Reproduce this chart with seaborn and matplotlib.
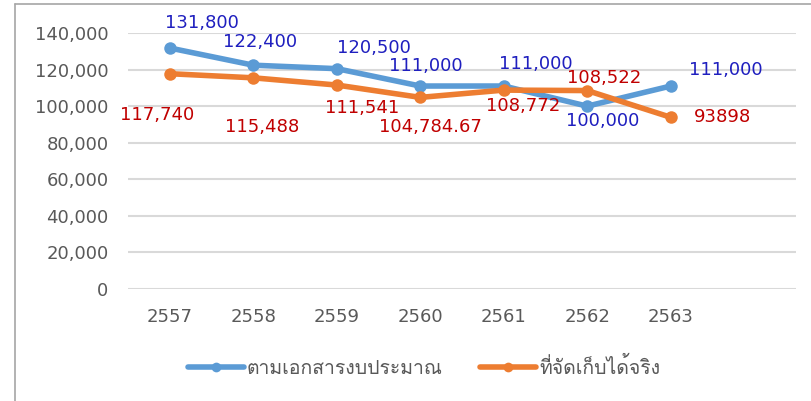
import matplotlib
matplotlib.use("Agg")
import matplotlib.pyplot as plt
from matplotlib import font_manager as fm
from matplotlib.ft2font import FT2Font
from matplotlib.lines import Line2D
import seaborn as sns
import pandas as pd

# ---- data ----
years = ["2557", "2558", "2559", "2560", "2561", "2562", "2563", ""]
budget = [131800, 122400, 120500, 111000, 111000, 100000, 111000]
actual = [117740, 115488, 111541, 104784.67, 108772, 108522, 93898]
budget_labels = ["131,800", "122,400", "120,500", "111,000", "111,000", "100,000", "111,000"]
actual_labels = ["117,740", "115,488", "111,541", "104,784.67", "108,772", "108,522", "93898"]
series_names = ["ตามเอกสารงบประมาณ", "ที่จัดเก็บได้จริง"]
yticks = [0, 20000, 40000, 60000, 80000, 100000, 120000, 140000]

# ---- find a font with Thai glyphs ----
thai_fam = None
for f in fm.fontManager.ttflist:
    try:
        cm = FT2Font(f.fname).get_charmap()
        if 0x0E15 in cm and 0x0E21 in cm:
            thai_fam = f.name
            break
    except Exception:
        pass

sns.set_theme(style="white")
fams = ["DejaVu Sans"] + ([thai_fam] if thai_fam else [])
plt.rcParams["font.family"] = fams

df = pd.DataFrame({
    "year": list(range(len(budget))) * 2,
    "value": budget + actual,
    "series": [series_names[0]] * len(budget) + [series_names[1]] * len(actual),
})

colors = {series_names[0]: "#5B9BD5", series_names[1]: "#ED7D31"}

fig = plt.figure(figsize=(8.12, 4.01), dpi=100)
ax = fig.add_axes([128 / 812, 1 - 289 / 401, 668 / 812, 256 / 401])

sns.lineplot(data=df, x="year", y="value", hue="series", palette=colors,
             marker="o", markersize=9, markeredgewidth=0, linewidth=4,
             legend=False, ax=ax, clip_on=False)

ax.set_xlim(-0.5, len(years) - 0.5)
ax.set_ylim(0, 140000)
ax.set_yticks(yticks)
ax.set_yticklabels([f"{v:,}" for v in yticks])
ax.set_xticks(range(len(years)))
ax.set_xticklabels(years)
ax.tick_params(axis="both", length=0, labelsize=13, colors="#595959")
ax.tick_params(axis="y", pad=14)
ax.tick_params(axis="x", pad=14)
ax.set_xlabel("")
ax.set_ylabel("")
ax.grid(axis="y", color="#D9D9D9", linewidth=1.5)
ax.set_axisbelow(True)
for s in ax.spines.values():
    s.set_visible(False)

# data labels (offsets in pixels)
b_off = [(32, 25), (7, 23), (37, 21), (6, 20), (32, 22), (15, -15), (55, 16)]
a_off = [(-13, -41), (9, -49), (25, -23), (10, -30), (19, -16), (17, 13), (52, 0)]
for i, (v, t) in enumerate(zip(budget, budget_labels)):
    ax.annotate(t, (i, v), xytext=b_off[i], textcoords="offset pixels",
                ha="center", va="center", fontsize=13, color="#1F1FBF",
                annotation_clip=False)
for i, (v, t) in enumerate(zip(actual, actual_labels)):
    ax.annotate(t, (i, v), xytext=a_off[i], textcoords="offset pixels",
                ha="center", va="center", fontsize=13, color="#C00000",
                annotation_clip=False)

# legend
handles = [Line2D([], [], color=colors[n], linewidth=4, marker="o",
                  markersize=7, markeredgewidth=0) for n in series_names]
fig.legend(handles, series_names, loc="center", ncol=2,
           bbox_to_anchor=(424 / 812, 1 - 367 / 401), frameon=False,
           fontsize=14, labelcolor="#595959", handlelength=2.9,
           handletextpad=0.15, columnspacing=1.9)

# chart frame (partially visible)
fig.add_artist(Line2D([15 / 812, 15 / 812], [0, 1 - 4 / 401],
                      transform=fig.transFigure, color="#A6A6A6", linewidth=1.2))
fig.add_artist(Line2D([15 / 812, 1], [1 - 4 / 401, 1 - 4 / 401],
                      transform=fig.transFigure, color="#A6A6A6", linewidth=1.2))

fig.savefig("out.png", dpi=100)
